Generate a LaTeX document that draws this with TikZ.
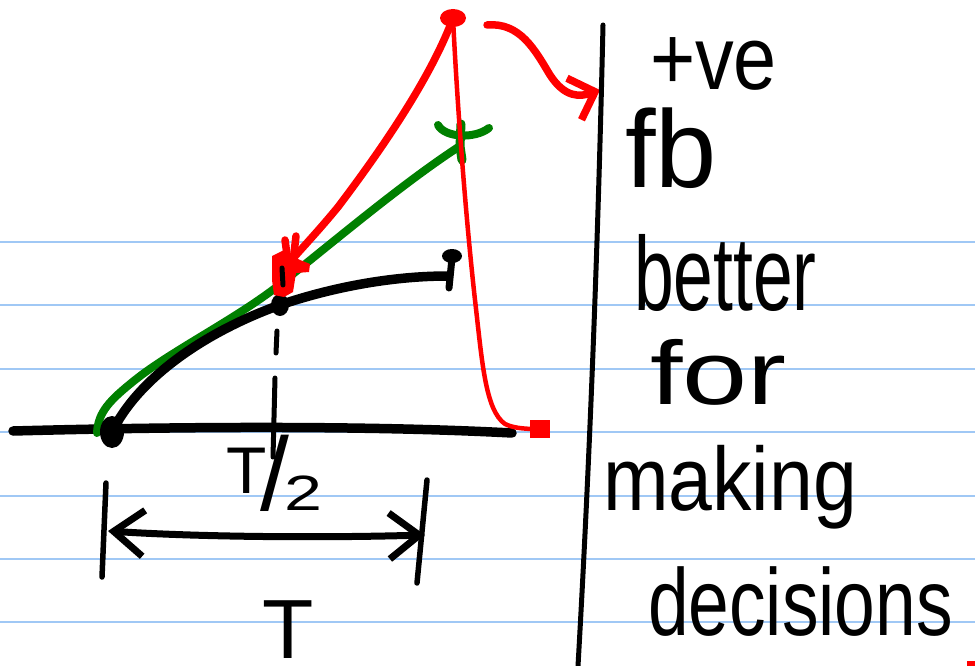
\documentclass[tikz,border=0pt]{standalone}
\usepackage{fontspec}
\usepackage{graphicx}
\setmainfont{Liberation Sans}
\usetikzlibrary{arrows.meta,calc}
\definecolor{ruleblue}{RGB}{160,200,245}
\definecolor{penred}{RGB}{255,0,0}
\definecolor{pengreen}{RGB}{0,128,0}
\begin{document}
\begin{tikzpicture}[x=1pt,y=-1pt,line cap=round,line join=round,
  ink/.style={line width=9.5pt,black},
  thinred/.style={penred,line width=4.5pt},
  thickred/.style={penred,line width=7.5pt},
  greenpen/.style={pengreen,line width=8pt},
  rule/.style={ruleblue,line width=2pt,line cap=butt},
  word/.style={anchor=base west,inner sep=0pt,outer sep=0pt},
  barb/.style={-{Straight Barb[length=#1,width=44pt]}},
  dimbarb/.style={{Straight Barb[length=30pt,width=46pt]}-{Straight Barb[length=30pt,width=46pt]}}]
\useasboundingbox (0,0) rectangle (975,666);
\fill[white] (0,0) rectangle (975,666);
% ruled paper
\foreach \y in {242,305,369,432,496,559,622} \draw[rule] (0,\y) -- (975,\y);
% key points
\coordinate (O) at (112,432);
\coordinate (M) at (280,305);
\coordinate (E) at (448,276);
\coordinate (Rtop) at (453,18);
\coordinate (Rend) at (540,429);
\coordinate (S) at (285,268);
\coordinate (G) at (460,146);
\coordinate (AxL) at (13,431);
\coordinate (AxR) at (512,433);
% axis
\draw[ink] (AxL) .. controls (200,426) and (380,426) .. (AxR);
% green line
\draw[greenpen] (97,433) .. controls (98,412) and (110,400) .. (135,380) .. controls (170,352) and (230,322) .. (274,289) .. controls (330,245) and (400,185) .. (G);
\draw[greenpen] (438,125) .. controls (445,138) and (475,139) .. (489,128);
\draw[pengreen,line width=9pt] (461,124) -- (G) -- (462,160);
% black curve
\draw[ink] (O) .. controls (140,375) and (210,330) .. (M) .. controls (330,288) and (390,276) .. (E);
\fill (452,256) ellipse (10 and 7);
\draw[black,line width=7pt] (452,258) -- (449,288);
\fill (O) ellipse (12 and 16);
\fill (M) ellipse (9 and 11);
% dashed vertical at T/2
\draw[black,line width=5pt] (277,331) -- (276,353);
\draw[black,line width=5pt] (275,378) -- (273,457);
% red thin curve
\draw[thinred] (Rtop) .. controls (457,100) and (465,210) .. (475,300) .. controls (482,360) and (485,410) .. (505,424) .. controls (515,429) and (530,429) .. (Rend);
% red thick line to star
\draw[thickred] (Rtop) .. controls (432,75) and (385,145) .. (338,207) .. controls (315,235) and (298,252) .. (S);
\fill[penred] (272,256) -- (284,250) -- (292,256) -- (300,260) -- (310,264) -- (309,272) -- (296,273) -- (293,292) -- (284,297) -- (274,295) -- (272,280) -- cycle;
\draw[thickred] (285,240) -- (288,262);
\draw[thickred] (296,236) -- (293,262);
\draw[black,line width=5pt] (282,268) -- (283,285);
\fill[penred] (Rtop) ellipse (13 and 9);
\fill[penred] ($(Rend)+(-10,-9)$) rectangle ($(Rend)+(10,9)$);
% red arrow to divider
\coordinate (RA) at (487,25);
\coordinate (RB) at (600,90);
\draw[penred,line width=7.5pt,barb=22pt] (RA) .. controls (520,22) and (535,50) .. (550,75) .. controls (565,98) and (580,97) .. (RB);
% divider
\draw[black,line width=5pt] (603,25) .. controls (599,200) and (592,420) .. (578,666);
% T/2 label
\node[word] (half) at (226,510) {\fontsize{66}{66}\selectfont\raisebox{17pt}{T}\kern-6pt{\fontsize{104}{104}\selectfont/}\kern-5pt{\fontsize{62}{62}\selectfont\raisebox{0pt}{\scalebox{1.1}[0.8]{2}}}};
% dimension T
\coordinate (DL) at (108,531);
\coordinate (DR) at (425,535);
\draw[black,line width=5.5pt] (106,483) -- (102,577);
\draw[black,line width=5.5pt] (427,480) -- (417,583);
\draw[black,line width=7pt,dimbarb] (DL) .. controls (200,537) and (320,538) .. (DR);
\node[anchor=base,inner sep=0pt] (Tlab) at (288,658) {\fontsize{84}{84}\selectfont T};
% right-hand text
\node[word] (w1) at (650,90) {\fontsize{90}{90}\selectfont\scalebox{0.86}[1]{+ve}};
\node[word] (w2) at (625,187) {\fontsize{110}{110}\selectfont fb};
\node[word] (w3) at (634,310) {\fontsize{105}{105}\selectfont\scalebox{0.68}[1]{better}};
\node[word] (w4) at (650,404) {\fontsize{90}{90}\selectfont\scalebox{1.3}[1]{for}};
\node[word] (w5) at (603,510) {\fontsize{90}{90}\selectfont\scalebox{0.875}[1]{making}};
\node[word] (w6) at (648,635) {\fontsize{95}{95}\selectfont\scalebox{0.77}[1]{decisions}};
% small red mark at corner
\fill[penred] (967,661) rectangle (975,666);
\end{tikzpicture}
\end{document}
